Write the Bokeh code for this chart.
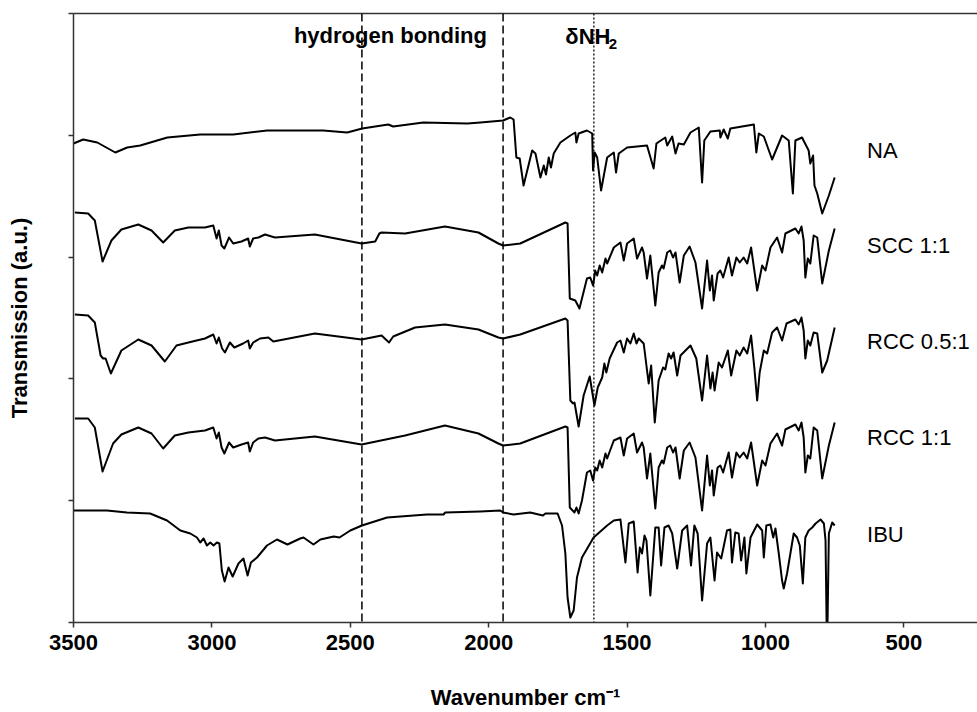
from bokeh.plotting import figure
from bokeh.models import Range1d, FixedTicker, Span, LinearAxis
from bokeh.embed import file_html
from bokeh.resources import INLINE
from bokeh.core.properties import value

# ---------------- data (wavenumber cm-1, transmission a.u. offset) ----------------
na_wn = [3500, 3465, 3414, 3349, 3306, 3259, 3161, 3042, 2923, 2800, 2598, 2511, 2457, 2363, 2345, 2236,
         2077, 2030, 1948, 1922, 1910, 1900, 1888, 1874, 1843, 1831, 1813, 1801, 1793, 1783, 1775, 1765,
         1741, 1705, 1687, 1683, 1675, 1645, 1626, 1623, 1617, 1608, 1594, 1572, 1548, 1540, 1530, 1500,
         1428, 1404, 1394, 1362, 1355, 1337, 1325, 1314, 1295, 1271, 1241, 1229, 1221, 1199, 1165, 1163,
         1151, 1136, 1127, 1042, 1033, 1024, 1006, 976, 940, 916, 901, 892, 868, 844, 838, 828, 823, 813,
         795, 771, 750]
na_tr = [479, 483, 480, 470, 475, 477, 485, 488, 488, 492, 492, 490, 494, 498, 496, 500,
         499, 500, 502, 505, 503, 465, 464, 437, 472, 469, 445, 457, 448, 465, 455, 469,
         480, 487, 490, 480, 489, 492, 489, 452, 470, 465, 432, 465, 470, 450, 469, 475,
         477, 454, 479, 485, 477, 486, 469, 479, 478, 490, 495, 440, 482, 491, 492, 485,
         493, 484, 494, 498, 470, 489, 486, 463, 487, 482, 429, 482, 485, 472, 459, 467, 437, 429,
         409, 427, 445]

scc_wn = [3495, 3447, 3423, 3395, 3363, 3327, 3266, 3218, 3176, 3134, 3085, 3025, 2995, 2983, 2975, 2965,
          2955, 2938, 2923, 2893, 2869, 2863, 2851, 2832, 2808, 2772, 2628, 2459, 2410, 2395, 2387, 2302,
          2158, 2037, 1965, 1948, 1886, 1723, 1715, 1707, 1687, 1672, 1645, 1633, 1623, 1615, 1608, 1599,
          1590, 1578, 1572, 1548, 1524, 1512, 1500, 1476, 1464, 1446, 1440, 1428, 1416, 1398, 1386, 1374,
          1368, 1355, 1344, 1334, 1325, 1310, 1295, 1274, 1253, 1229, 1211, 1201, 1193, 1187, 1173, 1163,
          1153, 1133, 1121, 1105, 1093, 1079, 1066, 1052, 1030, 1012, 1000, 982, 958, 940, 928, 892,
          880, 870, 862, 856, 847, 838, 826, 813, 795, 771, 750]
scc_tr = [410, 409, 402, 361, 382, 393, 398, 392, 380, 392, 395, 395, 397, 384, 392, 377,
          374, 385, 379, 381, 384, 376, 384, 385, 388, 385, 388, 379, 381, 389, 390, 389,
          396, 390, 379, 377, 379, 400, 399, 324, 322, 314, 344, 345, 337, 352, 347, 357,
          350, 364, 359, 375, 380, 362, 379, 384, 364, 375, 370, 344, 367, 317, 350, 357,
          354, 370, 372, 365, 370, 340, 367, 376, 360, 314, 362, 332, 347, 322, 349, 352,
          345, 365, 347, 365, 360, 365, 359, 375, 332, 357, 352, 375, 385, 370, 389, 394,
          389, 396, 382, 345, 364, 359, 387, 385, 339, 372, 394]

rcc05_wn = [3495, 3447, 3423, 3402, 3393, 3384, 3365, 3327, 3266, 3218, 3170, 3128, 3085, 3025, 2995, 2983,
            2975, 2963, 2953, 2935, 2919, 2887, 2869, 2863, 2851, 2826, 2796, 2778, 2628, 2459, 2387, 2360,
            2345, 2266, 2158, 2037, 1965, 1948, 1886, 1723, 1715, 1705, 1695, 1690, 1675, 1657, 1635, 1618,
            1606, 1590, 1582, 1575, 1563, 1536, 1524, 1512, 1500, 1488, 1476, 1466, 1458, 1440, 1422, 1413,
            1400, 1386, 1370, 1362, 1350, 1341, 1332, 1319, 1307, 1271, 1250, 1229, 1211, 1199, 1191, 1184,
            1169, 1157, 1136, 1124, 1105, 1093, 1079, 1066, 1052, 1040, 1030, 1021, 1006, 994, 976, 958,
            940, 924, 892, 880, 870, 862, 856, 847, 838, 826, 813, 795, 777, 750]
rcc05_tr = [308, 307, 300, 267, 264, 264, 249, 272, 283, 277, 261, 277, 280, 284, 288, 279,
            285, 274, 270, 280, 275, 279, 282, 274, 280, 284, 285, 281, 289, 283, 287, 280,
            286, 295, 298, 293, 285, 284, 288, 304, 302, 222, 219, 220, 196, 227, 246, 217,
            235, 245, 259, 250, 264, 280, 282, 270, 284, 279, 289, 279, 284, 279, 239, 257,
            200, 242, 255, 253, 269, 264, 270, 247, 267, 277, 264, 222, 267, 234, 250, 232,
            260, 255, 272, 247, 272, 267, 275, 269, 287, 254, 222, 250, 272, 269, 290, 295,
            282, 299, 303, 298, 305, 292, 264, 282, 277, 290, 289, 250, 262, 295]

rcc11_wn = [3495, 3447, 3423, 3395, 3357, 3327, 3266, 3218, 3176, 3134, 3085, 3025, 2995, 2983, 2975, 2965,
            2955, 2938, 2923, 2893, 2869, 2863, 2851, 2832, 2808, 2772, 2628, 2459, 2302, 2158, 2037, 1965,
            1948, 1886, 1723, 1715, 1707, 1690, 1683, 1675, 1663, 1645, 1633, 1623, 1615, 1608, 1599, 1590,
            1578, 1572, 1548, 1524, 1512, 1500, 1476, 1464, 1446, 1440, 1428, 1416, 1398, 1386, 1374, 1368,
            1355, 1344, 1334, 1325, 1310, 1295, 1274, 1253, 1229, 1211, 1201, 1193, 1187, 1173, 1163, 1153,
            1133, 1121, 1105, 1093, 1079, 1066, 1052, 1030, 1012, 1000, 982, 958, 940, 928, 892, 880,
            870, 862, 856, 847, 838, 826, 813, 795, 771, 750]
rcc11_tr = [204, 204, 195, 151, 179, 188, 195, 189, 174, 187, 190, 192, 195, 184, 190, 175,
            169, 180, 175, 178, 180, 171, 180, 184, 185, 182, 186, 178, 187, 197, 189, 179,
            177, 179, 196, 195, 115, 110, 115, 109, 122, 150, 152, 142, 155, 152, 162, 155,
            169, 164, 182, 185, 167, 184, 189, 170, 180, 175, 144, 169, 114, 155, 162, 159,
            175, 177, 170, 175, 144, 172, 180, 165, 112, 167, 137, 152, 127, 155, 157, 150,
            170, 145, 170, 165, 170, 164, 180, 137, 162, 157, 179, 189, 177, 193, 198, 192,
            200, 185, 150, 167, 164, 195, 192, 144, 177, 200]

ibu_wn = [3500, 3379, 3307, 3223, 3162, 3114, 3078, 3054, 3042, 3030, 3018, 3006, 2994, 2982, 2973, 2964,
          2954, 2940, 2925, 2904, 2886, 2871, 2859, 2837, 2801, 2765, 2727, 2681, 2669, 2633, 2608, 2560,
          2539, 2500, 2458, 2367, 2223, 2163, 2157, 2030, 1958, 1948, 1910, 1850, 1804, 1795, 1751, 1735,
          1723, 1715, 1705, 1693, 1681, 1663, 1621, 1572, 1548, 1524, 1506, 1494, 1476, 1462, 1454, 1446,
          1437, 1430, 1416, 1398, 1386, 1377, 1365, 1350, 1337, 1319, 1301, 1283, 1269, 1257, 1245, 1229,
          1211, 1199, 1184, 1175, 1160, 1139, 1127, 1121, 1109, 1097, 1088, 1076, 1069, 1054, 1030, 1012,
          1006, 997, 982, 972, 964, 952, 940, 934, 922, 898, 886, 876, 865, 856, 844, 831,
          819, 801, 789, 783, 779, 776, 771, 759, 750]
ibu_tr = [112, 112, 110, 109, 102, 92, 89, 85, 80, 84, 77, 80, 77, 80, 79, 52,
          41, 55, 46, 59, 64, 47, 60, 65, 77, 83, 78, 84, 85, 78, 83, 86,
          85, 92, 97, 105, 108, 108, 110, 111, 112, 110, 108, 110, 107, 109, 109, 97,
          69, 25, 5, 12, 45, 65, 85, 97, 102, 103, 60, 99, 101, 50, 75, 69,
          87, 82, 27, 95, 95, 57, 95, 97, 89, 54, 92, 97, 57, 97, 89, 22,
          79, 85, 42, 70, 64, 92, 93, 60, 90, 89, 62, 85, 49, 85, 98, 92,
          65, 97, 98, 85, 94, 69, 42, 34, 49, 89, 85, 77, 39, 85, 92, 95,
          99, 103, 99, 82, -5, -5, 89, 100, 97]

series_names = ["NA", "SCC 1:1", "RCC 0.5:1", "RCC 1:1", "IBU"]
series_wn = [na_wn, scc_wn, rcc05_wn, rcc11_wn, ibu_wn]
series_tr = [na_tr, scc_tr, rcc05_tr, rcc11_tr, ibu_tr]
label_wn = 633
label_tr = [472, 377, 281, 185, 88]

dashed_lines = [2458, 1948]   # hydrogen bonding region
dotted_line = 1620            # delta NH2

x_ticks = [3500, 3000, 2500, 2000, 1500, 1000, 500]
y_ticks = [0, 121.8, 243.6, 365.4, 487.2, 609]
y_top = 609

FONT = "Liberation Sans"
ax_col = "#333333"

# ---------------- figure ----------------
p = figure(width=977, height=712, output_backend="svg", toolbar_location=None,
           x_range=Range1d(3500, 234), y_range=Range1d(0, y_top),
           min_border_left=73, min_border_right=0, min_border_top=13, min_border_bottom=90)
p.grid.visible = False
p.outline_line_color = None
p.background_fill_color = "white"
p.border_fill_color = "white"

xa = p.xaxis[0]
xa.ticker = FixedTicker(ticks=x_ticks)
xa.axis_label = "Wavenumber cm\u207b\u00b9"
xa.axis_label_text_font = FONT
xa.axis_label_text_font_style = "bold"
xa.axis_label_text_font_size = "22px"
xa.axis_label_text_color = "black"
xa.axis_label_standoff = 32
xa.major_label_text_font = FONT
xa.major_label_text_font_style = "bold"
xa.major_label_text_font_size = "22px"
xa.major_label_text_color = "black"
xa.major_label_standoff = 7
xa.major_tick_in = 0
xa.major_tick_out = 5
xa.minor_tick_line_color = None
xa.axis_line_color = ax_col
xa.major_tick_line_color = ax_col
xa.axis_line_width = 1.5
xa.major_tick_line_width = 1.5

ya = p.yaxis[0]
ya.ticker = FixedTicker(ticks=y_ticks)
ya.major_label_overrides = {t: "" for t in y_ticks}
ya.major_label_standoff = 0
ya.axis_label = "Transmission (a.u.)"
ya.axis_label_text_font = FONT
ya.axis_label_text_font_style = "bold"
ya.axis_label_text_font_size = "22px"
ya.axis_label_text_color = "black"
ya.axis_label_standoff = 37
ya.major_tick_in = 0
ya.major_tick_out = 5
ya.minor_tick_line_color = None
ya.axis_line_color = ax_col
ya.major_tick_line_color = ax_col
ya.axis_line_width = 1.5
ya.major_tick_line_width = 1.5

# top border of the plot box: an axis above with one invisible tick
top_axis = LinearAxis(ticker=FixedTicker(ticks=[x_ticks[0]]),
                      major_label_overrides={x_ticks[0]: ""},
                      major_label_standoff=0, major_tick_in=0, major_tick_out=0,
                      major_tick_line_color=None, minor_tick_line_color=None,
                      axis_line_color=ax_col, axis_line_width=1.5)
p.add_layout(top_axis, "above")

# reference lines
for wn in dashed_lines:
    p.add_layout(Span(location=wn, dimension="height", line_color="black",
                      line_dash="8 4", line_width=1.5))
p.add_layout(Span(location=dotted_line, dimension="height", line_color="black",
                  line_dash="2 2", line_width=1.3))

# spectra
for wn, tr in zip(series_wn, series_tr):
    p.line(wn, tr, line_color="black", line_width=2, line_join="round")

# series labels
p.text(x=[label_wn] * len(series_names), y=label_tr, text=series_names,
       text_font=value(FONT), text_font_size="22px", text_color="black",
       text_align="left", text_baseline="alphabetic")

# annotations
p.text(x=[2355], y=[587], text=["hydrogen bonding"], text_font=value(FONT),
       text_font_style="bold", text_font_size="22px", text_color="black",
       text_align="center", text_baseline="alphabetic")
p.text(x=[1723], y=[586], text=["\u03b4NH"], text_font=value(FONT),
       text_font_style="bold", text_font_size="22px", text_color="black",
       text_align="left", text_baseline="alphabetic")
p.text(x=[1566], y=[579], text=["2"], text_font=value(FONT),
       text_font_style="bold", text_font_size="15px", text_color="black",
       text_align="left", text_baseline="alphabetic")

open("out.html", "w").write(file_html(p, INLINE))
